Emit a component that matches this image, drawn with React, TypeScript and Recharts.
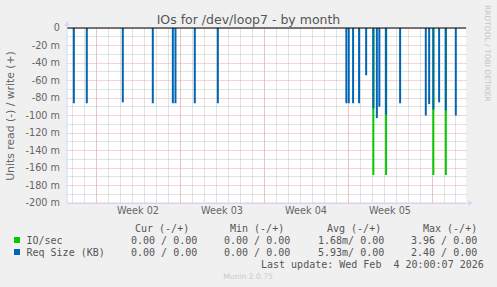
import React from "react";
import {
  ComposedChart,
  Bar,
  XAxis,
  YAxis,
  CartesianGrid,
  ReferenceLine,
} from "recharts";

// x values are days since Mon 5 Jan 2026 00:00 (start of week 02)
const spikeDays = [
  -1.83, -0.75, 2.25, 4.75, 6.42, 6.64, 8.25, 10.17, 20.88, 21.08, 21.44, 21.94,
  22.53, 23.13, 23.42, 23.63, 24.19, 25.36, 27.5, 27.78, 28.13, 28.61, 29.17, 30.0,
];
// read values, in milli-units (plotted below zero)
const reqSizeRead = [
  -86, -86, -85, -86, -86, -86, -86, -86, -86, -86, -86, -86,
  -54, -92, -103, -90, -99, -86, -100, -87, -93, -85, -94, -100,
];
const ioRead = [
  null, null, null, null, null, null, null, null, null, null, null, null,
  null, -168, null, null, -168, null, null, null, -168, null, -168, null,
];

const weekStarts = [0, 7, 14, 21, 28];
const weekMids = [3.5, 10.5, 17.5, 24.5];
const weekLabels = ["Week 02", "Week 03", "Week 04", "Week 05"];
const dayTicks = Array.from({ length: 33 }, (_, i) => i - 2);
const yTicks = [0, -20, -40, -60, -80, -100, -120, -140, -160, -180, -200];
const yMinorTicks = [-10, -30, -50, -70, -90, -110, -130, -150, -170, -190];

const legendRows = [
  { name: "IO/sec", color: "#00cc00", cur: "0.00 / 0.00", min: "0.00 / 0.00", avg: "1.68m/ 0.00", max: "3.96 / 0.00" },
  { name: "Req Size (KB)", color: "#0066b3", cur: "0.00 / 0.00", min: "0.00 / 0.00", avg: "5.93m/ 0.00", max: "2.40 / 0.00" },
];

const data = spikeDays.map((d, i) => ({ d, io: ioRead[i], req: reqSizeRead[i] }));

const X_DOMAIN: [number, number] = [-29 / 12, 370 / 12];
const FONT = "DejaVu Sans, sans-serif";
const MONO = "DejaVu Sans Mono, monospace";
const AXIS = "#CFD6F8";

const scaleOf = (axis: any) => (v: number): number => {
  const s = axis?.scale;
  if (typeof s === "function") return s(v);
  if (s && typeof s.map === "function") return s.map(v);
  return NaN;
};
const xGen = (vals: number[]) => ({ xAxis }: any) => vals.map(scaleOf(xAxis)).filter((n) => Number.isFinite(n));
const yGen = (vals: number[]) => ({ yAxis }: any) => vals.map(scaleOf(yAxis)).filter((n) => Number.isFinite(n));

// snap grid lines onto whole pixels, like rrdtool does
const snapLine = (color: string) => (p: any) => (
  <line
    key={p.key}
    x1={Math.floor(p.x1) + 0.5}
    y1={Math.floor(p.y1) + 0.5}
    x2={Math.floor(p.x2) + 0.5}
    y2={Math.floor(p.y2) + 0.5}
    stroke={color}
    strokeWidth={1}
    strokeDasharray="1 1"
    fill="none"
  />
);

export default function App() {
  const tickStyle = { fill: "#666", fontSize: 9.7, fontFamily: FONT };
  return (
    <div style={{ position: "absolute", left: 0, top: 0, width: 497, height: 287, background: "#f0f0f0" }}>
      <ComposedChart
        width={497}
        height={220}
        data={data}
        barGap={-2}
        margin={{ top: 28, right: 31, bottom: 0, left: 0 }}
        style={{ position: "absolute", left: 0, top: 0 }}
      >
        <XAxis
          dataKey="d"
          type="number"
          domain={X_DOMAIN}
          ticks={weekMids}
          tickFormatter={(v: number) => weekLabels[weekMids.indexOf(v)]}
          height={17}
          tickSize={0}
          tickMargin={4}
          tickLine={false}
          axisLine={{ stroke: AXIS }}
          tick={tickStyle}
        />
        <YAxis
          type="number"
          domain={[-200, 0]}
          ticks={yTicks}
          width={67}
          tickSize={0}
          tickMargin={7}
          tickLine={false}
          axisLine={{ stroke: AXIS }}
          tick={tickStyle}
          tickFormatter={(v: number) => (v === 0 ? "0" : `${v} m`)}
        />
        <CartesianGrid
          fill="#ffffff"
          verticalCoordinatesGenerator={xGen(dayTicks)}
          horizontalCoordinatesGenerator={yGen(yMinorTicks)}
          horizontal={snapLine("#c4c4c4")}
          vertical={snapLine("#c4c4c4")}
        />
        <CartesianGrid
          verticalCoordinatesGenerator={xGen(weekStarts)}
          horizontalCoordinatesGenerator={yGen(yTicks)}
          horizontal={snapLine("#eeaaaa")}
          vertical={snapLine("#eeaaaa")}
        />
        <Bar dataKey="io" fill="#00cc00" barSize={2} isAnimationActive={false} />
        <Bar dataKey="req" fill="#0066b3" barSize={2} isAnimationActive={false} />
        <ReferenceLine y={0} stroke="#000" ifOverflow="visible" />
      </ComposedChart>

      <svg width={497} height={287} style={{ position: "absolute", left: 0, top: 0, pointerEvents: "none" }}>
        <polygon points="64.5,26 69.5,26 67,20.5" fill={AXIS} />
        <polygon points="468,200.5 468,205.5 473,203" fill={AXIS} />
        <text x={248.5} y={24} textAnchor="middle" fontSize={12.5} fontFamily={FONT} fill="#555">
          IOs for /dev/loop7 - by month
        </text>
        <text x={14} y={116} textAnchor="middle" fontSize={10.8} fontFamily={FONT} fill="#666" transform="rotate(-90 14 116)">
          Units read (-) / write (+)
        </text>
        <text x={485} y={5} fontSize={7.5} fontFamily={FONT} fill="#c4c4c4" transform="rotate(90 485 5)">
          RRDTOOL / TOBI OETIKER
        </text>
        <g fontFamily={MONO} fontSize={10} fill="#555" style={{ whiteSpace: "pre" }}>
          <text x={135} y={231.5}>Cur (-/+)</text>
          <text x={230} y={231.5}>Min (-/+)</text>
          <text x={327} y={231.5}>Avg (-/+)</text>
          <text x={423} y={231.5}>Max (-/+)</text>
          {legendRows.map((r, i) => {
            const y = 243.5 + i * 12;
            return (
              <g key={r.name}>
                <rect x={14} y={y - 6.5} width={6} height={6} fill={r.color} />
                <text x={26.5} y={y}>{r.name}</text>
                <text x={131} y={y}>{r.cur}</text>
                <text x={224} y={y}>{r.min}</text>
                <text x={318} y={y}>{r.avg}</text>
                <text x={411} y={y}>{r.max}</text>
              </g>
            );
          })}
          <text x={261} y={267.5} xmlSpace="preserve">Last update: Wed Feb  4 20:00:07 2026</text>
        </g>
        <text x={248} y={279} textAnchor="middle" fontSize={7.6} fontFamily={FONT} fill="#c8c8c8">
          Munin 2.0.75
        </text>
      </svg>
    </div>
  );
}
